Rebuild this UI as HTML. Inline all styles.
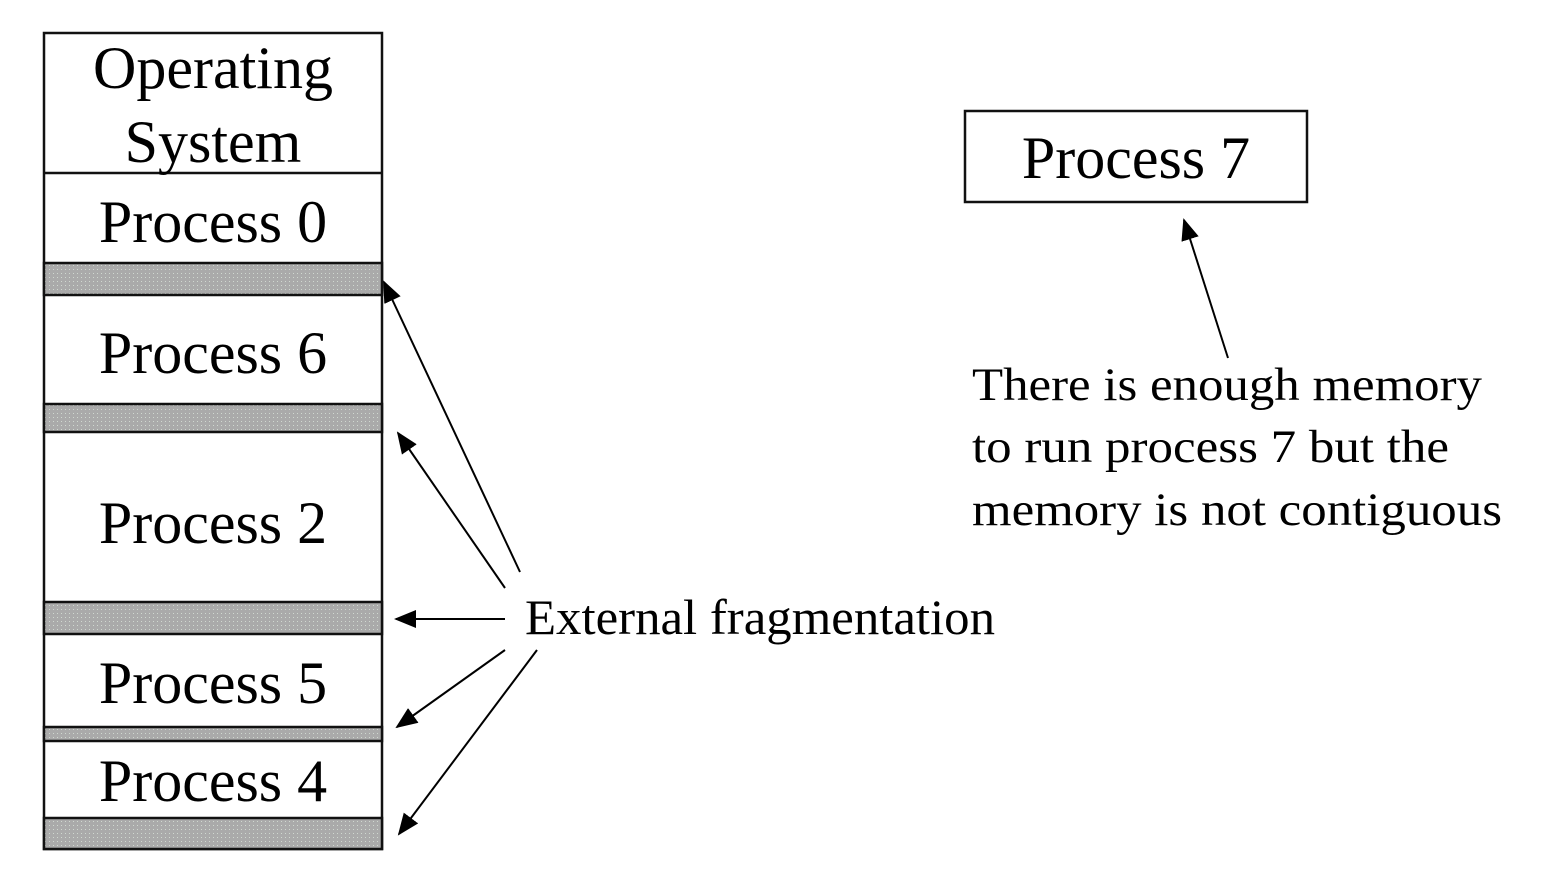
<!DOCTYPE html>
<html><head><style>
body{margin:0;background:#fff}
svg text{font-family:"Liberation Serif",serif;fill:#000}
</style></head><body>
<svg width="1542" height="872" viewBox="0 0 1542 872" xmlns="http://www.w3.org/2000/svg">
<defs>
<pattern id="g" width="4" height="4" patternUnits="userSpaceOnUse">
<rect width="4" height="4" fill="#aaaaaa"/><rect x="1" y="1" width="1" height="1" fill="#d0d8d0"/>
</pattern>
<marker id="b" markerWidth="22" markerHeight="18" refX="20" refY="9" orient="auto" markerUnits="userSpaceOnUse" viewBox="0 0 22 18">
<path d="M0,0 L22,9 L0,18 z" fill="#000"/>
</marker>
</defs>
<g stroke="#111" stroke-width="2.5">
<rect x="44" y="33" width="338" height="816" fill="#fff"/>
<rect x="44" y="263" width="338" height="32" fill="url(#g)"/>
<rect x="44" y="404" width="338" height="28" fill="url(#g)"/>
<rect x="44" y="602" width="338" height="32" fill="url(#g)"/>
<rect x="44" y="727" width="338" height="14" fill="url(#g)"/>
<rect x="44" y="818" width="338" height="31" fill="url(#g)"/>
<line x1="44" y1="173" x2="382" y2="173"/>
<rect x="965" y="111" width="342" height="91" fill="#fff"/>
</g>
<g font-size="60" text-anchor="middle">
<text x="213" y="88">Operating</text>
<text x="213" y="162">System</text>
<text x="213" y="242">Process 0</text>
<text x="213" y="373">Process 6</text>
<text x="213" y="543">Process 2</text>
<text x="213" y="703">Process 5</text>
<text x="213" y="801">Process 4</text>
<text x="1136" y="178">Process 7</text>
</g>
<text x="525" y="634" font-size="50" textLength="470" lengthAdjust="spacingAndGlyphs">External fragmentation</text>
<g font-size="47">
<text x="972" y="400" textLength="510" lengthAdjust="spacingAndGlyphs">There is enough memory</text>
<text x="972" y="462" textLength="477" lengthAdjust="spacingAndGlyphs">to run process 7 but the</text>
<text x="972" y="525" textLength="530" lengthAdjust="spacingAndGlyphs">memory is not contiguous</text>
</g>
<g stroke="#000" stroke-width="2" fill="none">
<line x1="520" y1="572" x2="384" y2="282" marker-end="url(#b)"/>
<line x1="505" y1="588" x2="398" y2="433" marker-end="url(#b)"/>
<line x1="505" y1="619" x2="396" y2="619" marker-end="url(#b)"/>
<line x1="505" y1="650" x2="397" y2="727" marker-end="url(#b)"/>
<line x1="537" y1="650" x2="399" y2="834" marker-end="url(#b)"/>
<line x1="1228" y1="358" x2="1184" y2="220" marker-end="url(#b)"/>
</g>
</svg>
</body></html>
